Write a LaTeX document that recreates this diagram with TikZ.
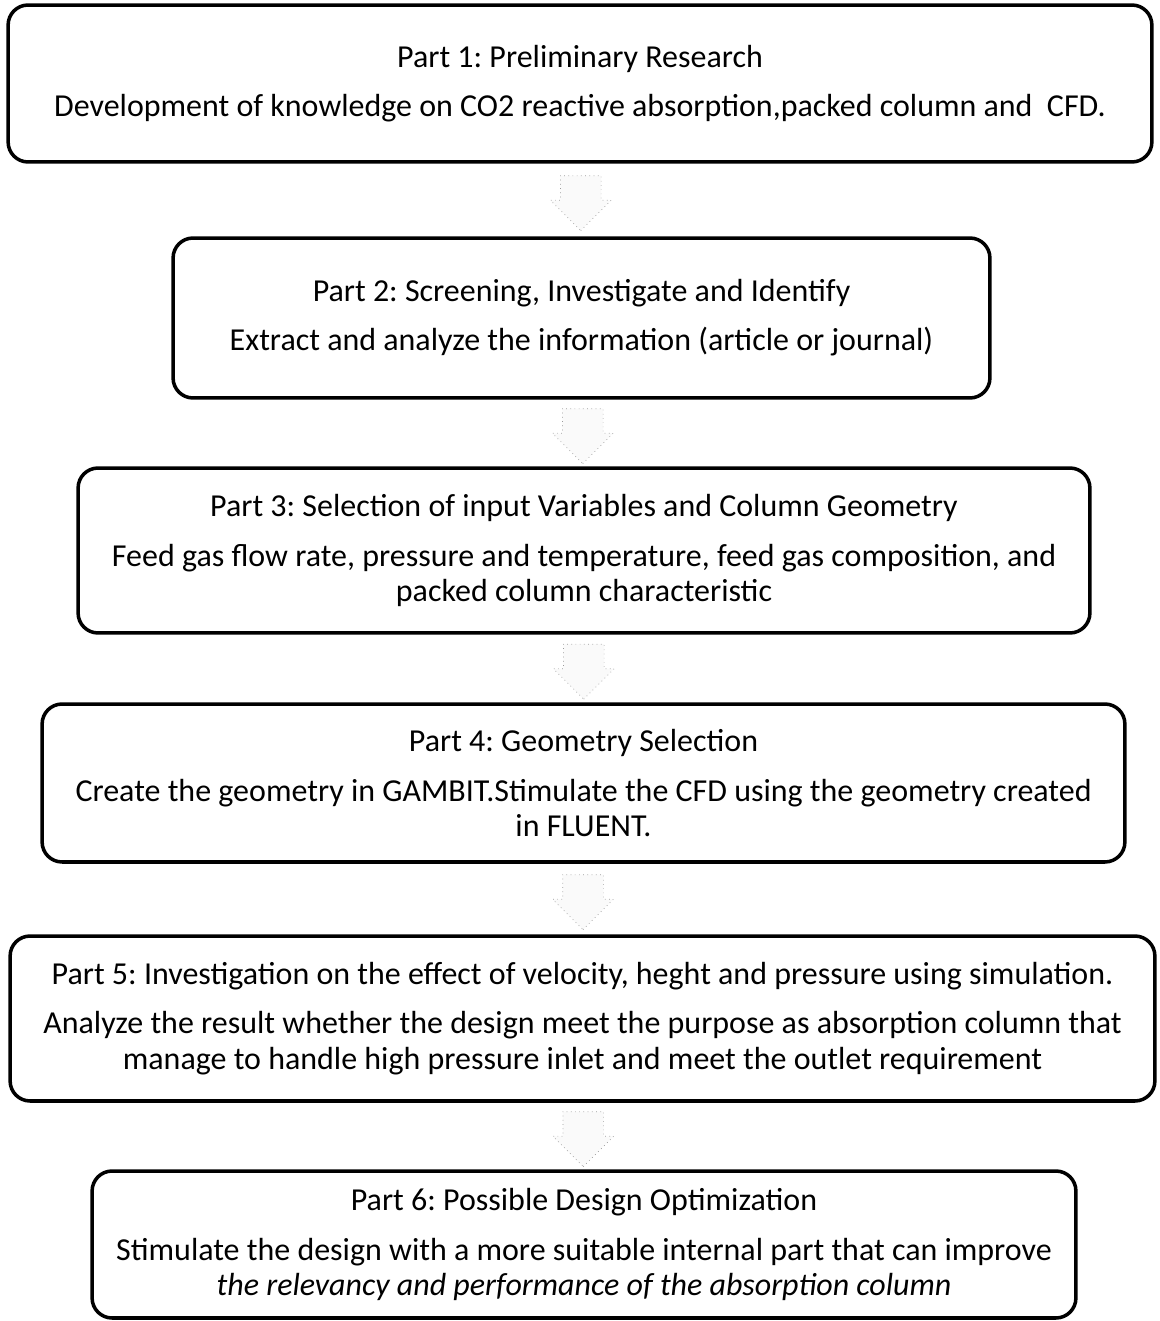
\documentclass[tikz,border=0pt]{standalone}
\usepackage{fontspec}
\setmainfont{Carlito}
\usetikzlibrary{calc,shapes.arrows}

\tikzset{
  partbox/.style={draw, line width=2pt, rounded corners=0.4cm, align=center,
    font=\fontsize{18.2}{20}\selectfont, inner sep=0pt},
  downarrow/.style={single arrow, shape border rotate=270, draw=gray!80, dotted,
    fill=gray!4, minimum height=1.1cm, inner xsep=0.4cm, inner ysep=0.02cm,
    single arrow head extend=0.2cm, yshift=0.14cm}
}

\begin{document}
\frenchspacing
\begin{tikzpicture}[x=0.02cm, y=-0.02cm]
    % Page frame
    \useasboundingbox (0, 0) rectangle (1159, 1321);

    % Part 1
    \node[partbox, minimum width=22.88cm, minimum height=3.14cm] (b1) at (580, 83.5)
        {Part 1: Preliminary Research\\[8pt]
         Development of knowledge on CO2 reactive absorption,packed column and\ \ CFD.};

    % Part 2
    \node[partbox, minimum width=16.34cm, minimum height=3.2cm] (b2) at (581.5, 318)
        {Part 2: Screening, Investigate and Identify\\[8pt]
         Extract and analyze the information (article or journal)};

    % Part 3
    \node[partbox, minimum width=20.24cm, minimum height=3.3cm] (b3) at (584, 550.5)
        {Part 3: Selection of input Variables and Column Geometry\\[8pt]
         Feed gas flow rate, pressure and temperature, feed gas composition, and\\
         packed column characteristic};

    % Part 4
    \node[partbox, minimum width=21.66cm, minimum height=3.16cm] (b4) at (583.5, 783)
        {Part 4: Geometry Selection\\[8pt]
         Create the geometry in GAMBIT.Stimulate the CFD using the geometry created\\
         in FLUENT.};

    % Part 5
    \node[partbox, minimum width=22.9cm, minimum height=3.3cm] (b5) at (582.5, 1018.5)
        {Part 5: Investigation on the effect of velocity, heght and pressure using simulation.\\[8pt]
         Analyze the result whether the design meet the purpose as absorption column that\\
         manage to handle high pressure inlet and meet the outlet requirement};

    % Part 6
    \node[partbox, minimum width=19.68cm, minimum height=2.94cm] (b6) at (584, 1244.5)
        {Part 6: Possible Design Optimization\\[8pt]
         Stimulate the design with a more suitable internal part that can improve\\
         \textit{the relevancy and performance of the absorption column}};

    % Arrows between the parts
    \node[downarrow] (a12) at ($(b1.south)!0.5!(b2.north)$) {};
    \node[downarrow] (a23) at ($(b2.south)!0.5!(b3.north)$) {};
    \node[downarrow] (a34) at ($(b3.south)!0.5!(b4.north)$) {};
    \node[downarrow] (a45) at ($(b4.south)!0.5!(b5.north)$) {};
    \node[downarrow] (a56) at ($(b5.south)!0.5!(b6.north)$) {};
\end{tikzpicture}
\end{document}
